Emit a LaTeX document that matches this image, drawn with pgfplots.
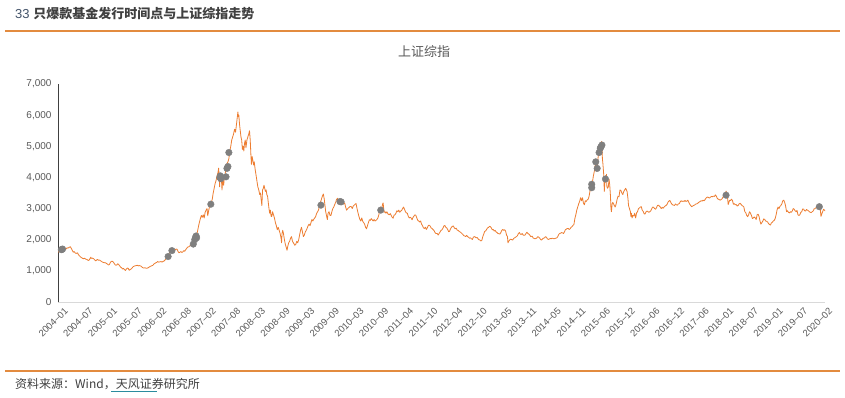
\documentclass[border=0pt]{standalone}
\usepackage{pgfplots}
\usepackage{pgfplotstable}
\pgfplotsset{compat=1.18}
\usepackage{fontspec}
\setmainfont{Liberation Sans}
\newfontfamily\cjk{Noto Sans CJK SC}
\definecolor{lineorange}{HTML}{ED7D31}
\definecolor{dotgray}{HTML}{7F7F7F}
\definecolor{txtgray}{HTML}{595959}
\definecolor{darktxt}{HTML}{404040}
\definecolor{numblue}{HTML}{44546A}
\definecolor{rulebrown}{HTML}{E38B3F}
\definecolor{teal}{HTML}{2B8C9E}

\pgfplotstableread{
x y
2004.000 1590
2004.020 1640
2004.040 1660
2004.060 1650
2004.080 1680
2004.100 1690
2004.125 1675
2004.150 1720
2004.170 1700
2004.190 1740
2004.210 1730
2004.240 1760
2004.260 1775
2004.280 1720
2004.300 1660
2004.320 1600
2004.340 1620
2004.360 1580
2004.380 1560
2004.410 1580
2004.430 1520
2004.460 1470
2004.480 1440
2004.500 1420
2004.520 1400
2004.540 1390
2004.560 1405
2004.580 1380
2004.610 1365
2004.630 1340
2004.650 1335
2004.670 1380
2004.690 1440
2004.700 1400
2004.720 1410
2004.750 1390
2004.770 1360
2004.790 1320
2004.810 1340
2004.830 1370
2004.850 1340
2004.870 1350
2004.900 1320
2004.920 1300
2004.940 1280
2004.970 1265
2005.000 1260
2005.020 1240
2005.040 1220
2005.060 1190
2005.080 1200
2005.100 1260
2005.120 1300
2005.140 1310
2005.160 1290
2005.180 1250
2005.200 1200
2005.220 1180
2005.240 1190
2005.260 1230
2005.280 1200
2005.300 1160
2005.320 1120
2005.340 1100
2005.360 1060
2005.380 1080
2005.400 1040
2005.420 1010
2005.440 1060
2005.460 1090
2005.480 1080
2005.500 1020
2005.520 1040
2005.540 1060
2005.560 1090
2005.580 1130
2005.600 1150
2005.620 1160
2005.650 1170
2005.670 1180
2005.700 1160
2005.720 1170
2005.750 1150
2005.770 1120
2005.790 1100
2005.810 1090
2005.830 1100
2005.850 1090
2005.870 1080
2005.900 1100
2005.920 1120
2005.940 1140
2005.970 1161
2006.000 1180
2006.020 1220
2006.040 1240
2006.060 1260
2006.080 1270
2006.100 1300
2006.120 1280
2006.150 1290
2006.170 1300
2006.190 1280
2006.210 1300
2006.230 1310
2006.250 1340
2006.270 1380
2006.290 1420
2006.310 1440
2006.330 1500
2006.350 1600
2006.370 1640
2006.390 1620
2006.410 1660
2006.430 1600
2006.450 1650
2006.470 1680
2006.490 1700
2006.510 1690
2006.530 1620
2006.550 1580
2006.570 1600
2006.590 1620
2006.610 1590
2006.630 1610
2006.650 1650
2006.670 1630
2006.690 1680
2006.710 1720
2006.730 1760
2006.750 1770
2006.770 1790
2006.790 1820
2006.810 1840
2006.830 1870
2006.850 1900
2006.870 1980
2006.890 2060
2006.910 2100
2006.930 2200
2006.950 2350
2006.970 2500
2007.000 2680
2007.020 2780
2007.040 2720
2007.060 2800
2007.080 2700
2007.100 2880
2007.120 2950
2007.140 3000
2007.155 2770
2007.170 2900
2007.190 3050
2007.210 3100
2007.230 3200
2007.250 3300
2007.270 3500
2007.290 3650
2007.310 3800
2007.330 3900
2007.350 4050
2007.370 4150
2007.385 4300
2007.395 4050
2007.405 3700
2007.415 4100
2007.430 3900
2007.440 4050
2007.455 3600
2007.470 3900
2007.490 3750
2007.505 4000
2007.520 4100
2007.540 4300
2007.560 4450
2007.580 4500
2007.600 4600
2007.620 4850
2007.640 5000
2007.660 5200
2007.680 5300
2007.700 5400
2007.720 5550
2007.740 5450
2007.760 5700
2007.775 5900
2007.790 6100
2007.800 5950
2007.810 6000
2007.825 5700
2007.840 5500
2007.855 5300
2007.870 5200
2007.885 4900
2007.900 5000
2007.915 4850
2007.930 5100
2007.945 5200
2007.960 4950
2007.980 5200
2008.000 5300
2008.020 5400
2008.035 5500
2008.050 5200
2008.065 4700
2008.075 4420
2008.090 4670
2008.105 4550
2008.120 4400
2008.135 4500
2008.150 4300
2008.170 4100
2008.190 3900
2008.210 3700
2008.230 3600
2008.250 3450
2008.265 3500
2008.280 3300
2008.295 3100
2008.310 3600
2008.325 3650
2008.340 3750
2008.355 3650
2008.370 3550
2008.385 3600
2008.400 3450
2008.415 3400
2008.430 3200
2008.445 3000
2008.460 2850
2008.475 2950
2008.490 2750
2008.505 2750
2008.520 2900
2008.540 2800
2008.560 2700
2008.580 2550
2008.600 2450
2008.620 2320
2008.640 2400
2008.660 2300
2008.680 2200
2008.700 2050
2008.710 1900
2008.720 2200
2008.735 2300
2008.750 2200
2008.770 2000
2008.790 1850
2008.810 1750
2008.825 1660
2008.840 1780
2008.860 1900
2008.880 1950
2008.900 2050
2008.920 2100
2008.940 1950
2008.960 1900
2008.990 1820
2009.010 1850
2009.030 1950
2009.050 1900
2009.070 1990
2009.090 2150
2009.110 2300
2009.130 2400
2009.150 2250
2009.170 2100
2009.190 2150
2009.210 2250
2009.230 2300
2009.250 2370
2009.270 2450
2009.290 2500
2009.310 2450
2009.330 2550
2009.350 2650
2009.370 2600
2009.390 2660
2009.410 2700
2009.430 2750
2009.450 2850
2009.470 2900
2009.490 2960
2009.510 3100
2009.530 3200
2009.550 3300
2009.570 3400
2009.590 3470
2009.610 3300
2009.625 3100
2009.640 2900
2009.660 2750
2009.675 2650
2009.690 2850
2009.710 2900
2009.730 2780
2009.750 2780
2009.770 2900
2009.790 3000
2009.810 3050
2009.830 3130
2009.850 3200
2009.870 3300
2009.890 3330
2009.910 3200
2009.930 3150
2009.950 3250
2009.970 3280
2010.000 3200
2010.020 3150
2010.040 3180
2010.060 3050
2010.080 2950
2010.100 2990
2010.120 3020
2010.140 3050
2010.160 3070
2010.180 3060
2010.200 3000
2010.220 3080
2010.240 3110
2010.260 3140
2010.280 3160
2010.300 3000
2010.320 2870
2010.340 2750
2010.360 2650
2010.380 2600
2010.400 2700
2010.420 2590
2010.440 2550
2010.460 2500
2010.480 2400
2010.500 2350
2010.520 2450
2010.540 2550
2010.560 2640
2010.580 2620
2010.600 2680
2010.620 2640
2010.640 2600
2010.660 2650
2010.680 2600
2010.700 2620
2010.720 2650
2010.740 2700
2010.760 2800
2010.780 2980
2010.800 3050
2010.820 3000
2010.840 3150
2010.850 3180
2010.870 2880
2010.890 2900
2010.910 2850
2010.930 2900
2010.950 2830
2010.980 2800
2011.000 2840
2011.020 2780
2011.040 2720
2011.060 2690
2011.080 2790
2011.100 2800
2011.120 2850
2011.140 2930
2011.160 2900
2011.180 2950
2011.200 2880
2011.220 2920
2011.240 2940
2011.260 3000
2011.280 3050
2011.300 2980
2011.320 2900
2011.340 2860
2011.360 2850
2011.380 2750
2011.400 2700
2011.420 2720
2011.440 2700
2011.460 2640
2011.480 2720
2011.500 2760
2011.520 2800
2011.540 2780
2011.560 2700
2011.580 2620
2011.600 2600
2011.620 2570
2011.640 2600
2011.660 2500
2011.680 2450
2011.700 2380
2011.720 2360
2011.740 2400
2011.760 2330
2011.780 2380
2011.800 2450
2011.820 2470
2011.840 2440
2011.860 2380
2011.880 2360
2011.900 2330
2011.920 2300
2011.940 2240
2011.960 2200
2011.990 2200
2012.010 2150
2012.030 2200
2012.050 2250
2012.070 2300
2012.090 2320
2012.110 2370
2012.130 2440
2012.150 2460
2012.170 2400
2012.190 2380
2012.210 2330
2012.230 2260
2012.250 2270
2012.270 2350
2012.290 2400
2012.310 2430
2012.330 2440
2012.350 2380
2012.370 2350
2012.390 2370
2012.410 2310
2012.430 2300
2012.450 2270
2012.470 2250
2012.490 2230
2012.510 2200
2012.530 2170
2012.550 2130
2012.570 2120
2012.590 2100
2012.610 2140
2012.630 2100
2012.650 2080
2012.670 2050
2012.690 2060
2012.710 2030
2012.730 2010
2012.750 2080
2012.770 2100
2012.790 2090
2012.810 2060
2012.830 2070
2012.850 2030
2012.870 2000
2012.890 1990
2012.910 1960
2012.930 1980
2012.950 2100
2012.970 2180
2012.990 2270
2013.010 2280
2013.030 2330
2013.050 2380
2013.070 2390
2013.090 2430
2013.110 2420
2013.130 2380
2013.150 2320
2013.170 2330
2013.190 2280
2013.210 2300
2013.230 2250
2013.250 2230
2013.270 2200
2013.290 2190
2013.310 2180
2013.330 2230
2013.350 2300
2013.370 2330
2013.390 2300
2013.410 2320
2013.430 2280
2013.450 2150
2013.470 2100
2013.480 1900
2013.500 1960
2013.520 2000
2013.540 2020
2013.560 2000
2013.580 1990
2013.600 2040
2013.620 2060
2013.640 2080
2013.660 2100
2013.680 2130
2013.700 2200
2013.720 2230
2013.740 2180
2013.760 2170
2013.780 2200
2013.800 2150
2013.820 2140
2013.840 2150
2013.860 2200
2013.880 2240
2013.900 2200
2013.920 2180
2013.940 2150
2013.960 2100
2013.990 2115
2014.010 2060
2014.030 2040
2014.050 2030
2014.070 2040
2014.090 2060
2014.110 2100
2014.130 2080
2014.150 2050
2014.170 2000
2014.190 1990
2014.210 2030
2014.230 2050
2014.250 2060
2014.270 2100
2014.290 2080
2014.310 2030
2014.330 2010
2014.350 2020
2014.370 2040
2014.390 2030
2014.410 2050
2014.430 2040
2014.450 2030
2014.470 2040
2014.490 2050
2014.510 2060
2014.530 2100
2014.550 2170
2014.570 2200
2014.590 2210
2014.610 2230
2014.630 2220
2014.650 2200
2014.670 2250
2014.690 2320
2014.710 2340
2014.730 2360
2014.750 2360
2014.770 2330
2014.790 2350
2014.810 2400
2014.830 2420
2014.850 2460
2014.870 2490
2014.890 2680
2014.910 2800
2014.930 2950
2014.950 3050
2014.970 3150
2014.990 3230
2015.010 3350
2015.030 3250
2015.050 3350
2015.070 3180
2015.090 3120
2015.110 3250
2015.130 3230
2015.150 3280
2015.170 3300
2015.190 3400
2015.210 3580
2015.230 3700
2015.240 3750
2015.260 3850
2015.280 4050
2015.300 4200
2015.310 4300
2015.320 4400
2015.335 4500
2015.350 4200
2015.365 4350
2015.380 4650
2015.395 4800
2015.410 4750
2015.420 4950
2015.435 5050
2015.450 5150
2015.460 5050
2015.470 4600
2015.480 4450
2015.490 4250
2015.500 4050
2015.510 3550
2015.520 3800
2015.530 3950
2015.540 4050
2015.550 3950
2015.555 4100
2015.565 3700
2015.580 3650
2015.595 3700
2015.610 3950
2015.625 3750
2015.640 3400
2015.650 3000
2015.660 2900
2015.675 3150
2015.690 3200
2015.705 3150
2015.720 3100
2015.740 3050
2015.760 3150
2015.780 3300
2015.800 3400
2015.820 3380
2015.840 3600
2015.860 3580
2015.880 3500
2015.900 3450
2015.920 3550
2015.940 3600
2015.960 3650
2015.990 3550
2016.010 3300
2016.020 3100
2016.040 3000
2016.060 2900
2016.070 2750
2016.080 2850
2016.095 2700
2016.110 2780
2016.130 2760
2016.150 2850
2016.170 2700
2016.190 2860
2016.210 2900
2016.230 3000
2016.250 3020
2016.270 3050
2016.290 3060
2016.310 2940
2016.330 2910
2016.350 2830
2016.370 2830
2016.390 2900
2016.410 2920
2016.430 2900
2016.450 2880
2016.470 2900
2016.490 2930
2016.510 3000
2016.530 3050
2016.550 3040
2016.570 3000
2016.590 2980
2016.610 3030
2016.630 3100
2016.650 3110
2016.670 3080
2016.690 3050
2016.710 3000
2016.730 3040
2016.750 3010
2016.770 3050
2016.790 3080
2016.810 3100
2016.830 3130
2016.850 3200
2016.870 3240
2016.890 3260
2016.910 3200
2016.930 3150
2016.950 3120
2016.970 3110
2016.990 3100
2017.010 3150
2017.030 3120
2017.050 3110
2017.070 3150
2017.090 3160
2017.110 3220
2017.130 3250
2017.150 3230
2017.170 3240
2017.190 3230
2017.210 3260
2017.230 3230
2017.250 3240
2017.270 3270
2017.290 3200
2017.310 3140
2017.330 3100
2017.350 3060
2017.370 3080
2017.390 3100
2017.410 3110
2017.430 3140
2017.450 3150
2017.470 3160
2017.490 3190
2017.510 3210
2017.530 3230
2017.550 3250
2017.570 3240
2017.590 3270
2017.610 3250
2017.630 3280
2017.650 3330
2017.670 3360
2017.690 3370
2017.710 3350
2017.730 3340
2017.750 3370
2017.770 3390
2017.790 3380
2017.810 3400
2017.830 3390
2017.850 3440
2017.870 3400
2017.890 3330
2017.910 3300
2017.930 3290
2017.950 3270
2017.970 3290
2017.990 3310
2018.010 3370
2018.030 3410
2018.050 3440
2018.065 3480
2018.075 3560
2018.085 3520
2018.100 3450
2018.110 3300
2018.120 3130
2018.135 3200
2018.150 3270
2018.170 3260
2018.190 3300
2018.210 3260
2018.230 3140
2018.250 3160
2018.270 3120
2018.290 3130
2018.310 3080
2018.330 3100
2018.350 3150
2018.370 3170
2018.390 3140
2018.410 3100
2018.430 3080
2018.450 3050
2018.470 2900
2018.490 2870
2018.510 2780
2018.530 2740
2018.550 2800
2018.570 2900
2018.590 2850
2018.610 2780
2018.630 2680
2018.650 2700
2018.670 2730
2018.690 2700
2018.710 2650
2018.730 2800
2018.750 2820
2018.770 2750
2018.790 2600
2018.810 2500
2018.830 2550
2018.850 2600
2018.870 2670
2018.890 2650
2018.910 2600
2018.930 2590
2018.950 2570
2018.970 2520
2018.990 2490
2019.010 2470
2019.030 2540
2019.050 2560
2019.070 2600
2019.090 2620
2019.110 2680
2019.130 2800
2019.150 2960
2019.170 3050
2019.190 3000
2019.210 3070
2019.230 3100
2019.250 3150
2019.270 3250
2019.290 3270
2019.310 3200
2019.330 3080
2019.350 2900
2019.370 2930
2019.390 2880
2019.410 2860
2019.430 2900
2019.450 2880
2019.470 2920
2019.490 3000
2019.510 2980
2019.530 2930
2019.550 2900
2019.570 2940
2019.590 2800
2019.610 2780
2019.630 2800
2019.650 2880
2019.670 2900
2019.690 2990
2019.710 2980
2019.730 2930
2019.750 2920
2019.770 2970
2019.790 2950
2019.810 2930
2019.830 2900
2019.850 2880
2019.870 2870
2019.890 2900
2019.910 2920
2019.930 2990
2019.950 3000
2019.970 3030
2019.990 3050
2020.010 3080
2020.030 3100
2020.045 3080
2020.060 2980
2020.075 2750
2020.090 2820
2020.110 2900
2020.130 2980
2020.150 2950
2020.160 2920
}\sindex

\pgfplotstableread{
x y
2004.070 1680
2004.085 1690
2004.095 1700
2006.320 1460
2006.400 1650
2006.850 1860
2006.880 2000
2006.900 2080
2006.910 2120
2006.920 2060
2007.220 3140
2007.410 4000
2007.420 4050
2007.430 3960
2007.540 4020
2007.560 4290
2007.580 4350
2007.600 4800
2009.540 3110
2009.940 3225
2009.965 3215
2010.800 2950
2015.245 3780
2015.245 3670
2015.330 4500
2015.360 4290
2015.400 4800
2015.425 4940
2015.440 4980
2015.460 5040
2015.535 3950
2018.075 3430
2020.040 3060
}\funds

\begin{document}
\begin{tikzpicture}[x=1pt,y=1pt]
\useasboundingbox (0,0) rectangle (845,397);
\fill[white] (0,0) rectangle (845,397);
% header
\node[anchor=west, text=darktxt, inner sep=0pt] at (15,383) {\fontsize{13}{15}\selectfont {\color{numblue}33} {\cjk\bfseries 只爆款基金发行时间点与上证综指走势}};
\draw[rulebrown, line width=1.2pt] (5,366) -- (840,366);
% chart title
\node[text=txtgray, inner sep=0pt] at (424,345) {\fontsize{13}{15}\selectfont\cjk 上证综指};
% footer
\draw[rulebrown, line width=1.2pt] (5,26) -- (840,26);
\node[anchor=west, text=darktxt, inner sep=0pt] (src) at (15,13) {\fontsize{12}{14}\selectfont\cjk 资料来源：Wind，天风证券研究所};
\draw[teal, line width=1pt] (111,5.5) -- (157,5.5);

\begin{axis}[
  at={(58pt,95pt)}, anchor=south west,
  width=767pt, height=218pt, scale only axis,
  xmin=2004, xmax=2020.16, ymin=0, ymax=7000,
  axis x line*=bottom, axis y line*=left,
  x axis line style={draw=black!15, line width=0.8pt},
  y axis line style={draw=darktxt, line width=1pt},
  major tick length=0pt,
  ytick={0,1000,2000,3000,4000,5000,6000,7000},
  yticklabel style={/pgf/number format/assume math mode=true,
     /pgf/number format/1000 sep={,}, font=\fontsize{10}{12}\selectfont,
     text=txtgray, xshift=-3pt},
  xtick={2004.000,2004.519,2005.039,2005.558,2006.077,2006.597,2007.116,2007.635,2008.155,2008.674,2009.194,2009.713,2010.232,2010.752,2011.271,2011.790,2012.310,2012.829,2013.348,2013.868,2014.387,2014.906,2015.426,2015.945,2016.464,2016.984,2017.503,2018.022,2018.542,2019.061,2019.580,2020.100},
  xticklabels={2004--01,2004--07,2005--01,2005--07,2006--02,2006--08,2007--02,2007--08,2008--03,2008--09,2009--03,2009--09,2010--03,2010--09,2011--04,2011--10,2012--04,2012--10,2013--05,2013--11,2014--05,2014--11,2015--06,2015--12,2016--06,2016--12,2017--06,2018--01,2018--07,2019--01,2019--07,2020--02},
  xticklabel style={rotate=45, anchor=east, font=\fontsize{9.5}{10}\selectfont, text=txtgray, inner sep=1pt, yshift=-11pt, xshift=2pt},
]
\addplot[lineorange, line width=0.8pt, line join=round] table[x=x,y=y] {\sindex};
\addplot[only marks, mark=*, mark size=3.3pt, mark options={fill=dotgray, draw=dotgray}] table[x=x,y=y] {\funds};
\end{axis}
\end{tikzpicture}
\end{document}
